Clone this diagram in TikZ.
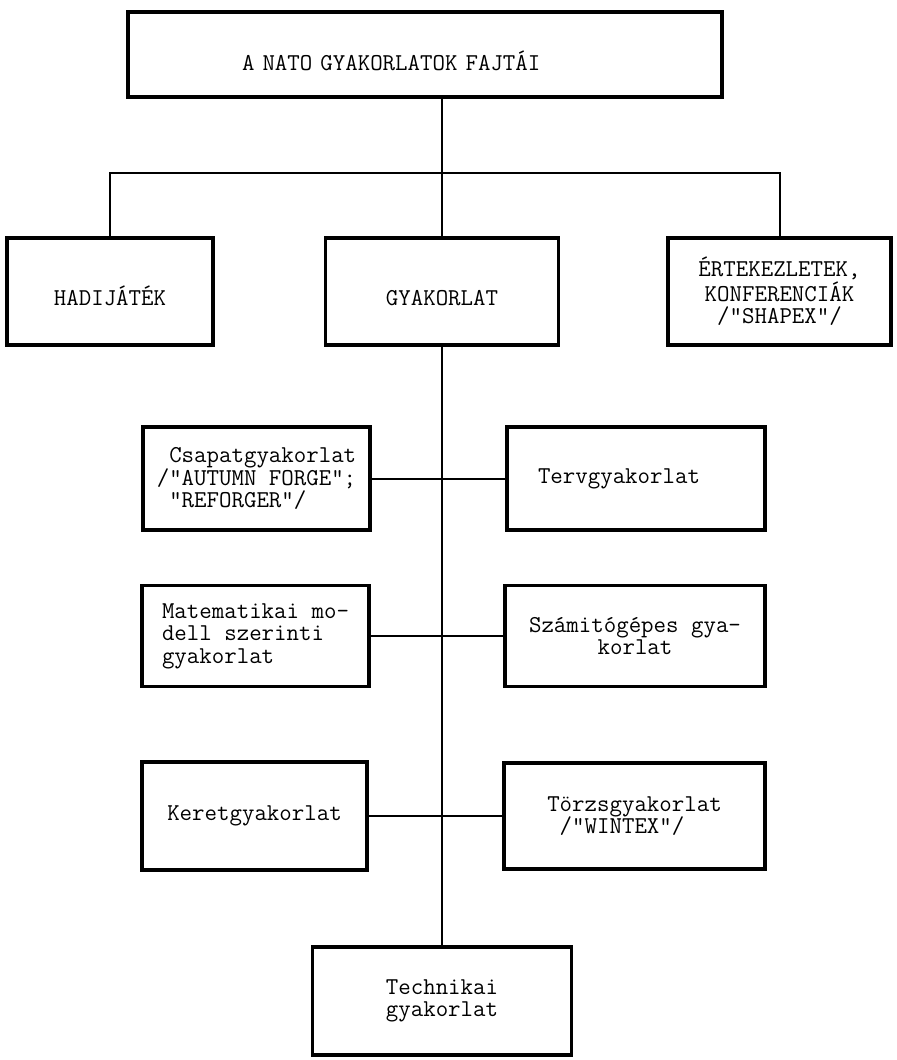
\documentclass[tikz,border=0pt]{standalone}
\usetikzlibrary{calc}

\begin{document}
\begin{tikzpicture}[x=0.5pt,y=-0.5pt,
  box/.style={draw,line width=1.8pt,inner sep=0pt,font=\ttfamily\fontsize{12.1}{11.2}\selectfont},
  link/.style={line width=1pt}]
  \useasboundingbox (0,0) rectangle (896,1060);
  \path (425,54.5) node[box,minimum height=42.5pt,inner xsep=57pt,text width=183pt,align=left,text height=15.5pt,text depth=0pt] (top) {A NATO GYAKORLATOK FAJTÁI}
  (110,291.5) node[box,minimum width=103pt,minimum height=53.5pt,text height=13.5pt,text depth=0pt] (hadi) {HADIJÁTÉK}
  (442,291.5) node[box,minimum width=116.5pt,minimum height=53.5pt,text height=13.5pt,text depth=0pt] (gyak) {GYAKORLAT}
  (779.5,291.5) node[box,minimum width=111.5pt,minimum height=53.5pt,align=center] (ertek) {ÉRTEKEZLETEK,\\KONFERENCIÁK\\/"SHAPEX"/};
  \path (256.5,478.5) node[box,minimum width=113.5pt,minimum height=51.5pt,align=left] (csapat) {\hphantom{/}Csapatgyakorlat\\/"AUTUMN FORGE";\\\hphantom{/}"REFORGER"/}
  (636,478.5) node[box,minimum height=51.5pt,inner xsep=15.5pt,text width=98pt,align=left] (terv) {Tervgyakorlat}
  (255.5,636) node[box,minimum width=113.5pt,minimum height=50.5pt,align=left] (matem) {Matematikai mo-\\dell szerinti\\gyakorlat}
  (635,636) node[box,minimum width=130pt,minimum height=50.5pt,align=center] (szamit) {Számitógépes gya-\\korlat}
  (254.5,816) node[box,minimum width=112.5pt,minimum height=54pt] (keret) {Keretgyakorlat}
  (634.5,816) node[box,minimum width=130.5pt,minimum height=53pt,align=left] (torzs) {Törzsgyakorlat\\\hphantom{/}/"WINTEX"/}
  (442,1001) node[box,minimum width=129.5pt,minimum height=54pt,align=center] (techn) {Technikai\\gyakorlat};
  \coordinate (bus) at (442,173);
  \draw[link] (top.south -| bus) -- (gyak);
  \draw[link] (hadi.north) |- (bus) -| (ertek.north);
  \draw[link] (gyak) -- (techn);
  \draw[link] (csapat) -- (terv);
  \draw[link] (matem) -- (szamit);
  \draw[link] (keret) -- (torzs);
\end{tikzpicture}
\end{document}
